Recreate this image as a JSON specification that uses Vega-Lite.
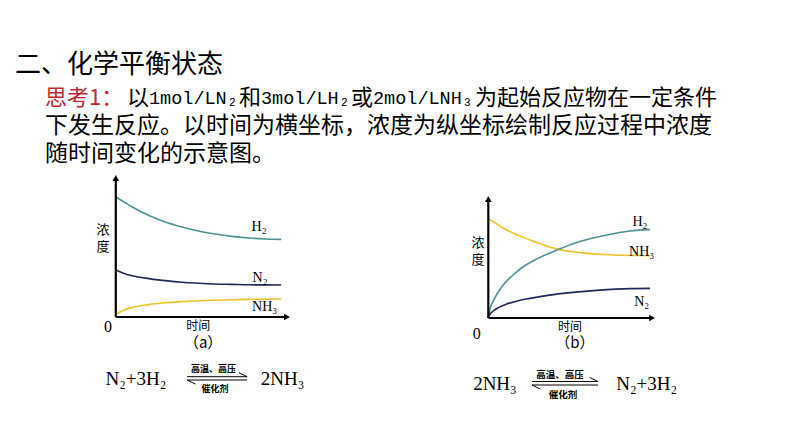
{
  "$schema": "https://vega.github.io/schema/vega-lite/v6.json",
  "padding": 0,
  "background": "white",
  "spacing": 0,
  "config": {"view": {"stroke": null}, "concat": {"spacing": 0}},
  "resolve": {"scale": {"x": "independent", "y": "independent", "color": "independent"}},
  "datasets": {
    "header": [
      {"part": "title", "x": 15, "row": -1.18, "label": "二、化学平衡状态"},
      {"part": "lead", "x": 45, "row": 0, "label": "思考1："},
      {"part": "body1", "x": 127, "row": 0, "label": "以"},
      {"part": "latin", "x": 149, "row": 0, "label": "1mol/LN₂"},
      {"part": "body1", "x": 239, "row": 0, "label": "和"},
      {"part": "latin", "x": 261, "row": 0, "label": "3mol/LH₂"},
      {"part": "body1", "x": 351, "row": 0, "label": "或"},
      {"part": "latin", "x": 373, "row": 0, "label": "2mol/LNH₃"},
      {"part": "body1", "x": 475, "row": 0, "label": "为起始反应物在一定条件"},
      {"part": "body", "x": 45, "row": 1, "label": "下发生反应。以时间为横坐标，浓度为纵坐标绘制反应过程中浓度"},
      {"part": "body", "x": 45, "row": 2, "label": "随时间变化的示意图。"}
    ],
    "curvesA": [
      {"species": "H2", "t": 0, "c": 6.0}, {"species": "H2", "t": 0.5, "c": 5.75}, {"species": "H2", "t": 1, "c": 5.5},
      {"species": "H2", "t": 2, "c": 5.08}, {"species": "H2", "t": 3, "c": 4.75}, {"species": "H2", "t": 4, "c": 4.5},
      {"species": "H2", "t": 5, "c": 4.3}, {"species": "H2", "t": 6, "c": 4.15}, {"species": "H2", "t": 7, "c": 4.03},
      {"species": "H2", "t": 8, "c": 3.95}, {"species": "H2", "t": 9, "c": 3.9}, {"species": "H2", "t": 10, "c": 3.88},
      {"species": "N2", "t": 0, "c": 2.35}, {"species": "N2", "t": 0.5, "c": 2.18}, {"species": "N2", "t": 1, "c": 2.06},
      {"species": "N2", "t": 2, "c": 1.92}, {"species": "N2", "t": 3, "c": 1.82}, {"species": "N2", "t": 4, "c": 1.74},
      {"species": "N2", "t": 5, "c": 1.69}, {"species": "N2", "t": 6, "c": 1.65}, {"species": "N2", "t": 7, "c": 1.63},
      {"species": "N2", "t": 8, "c": 1.61}, {"species": "N2", "t": 10, "c": 1.6},
      {"species": "NH3", "t": 0, "c": 0.12}, {"species": "NH3", "t": 0.5, "c": 0.35}, {"species": "NH3", "t": 1, "c": 0.48},
      {"species": "NH3", "t": 2, "c": 0.62}, {"species": "NH3", "t": 3, "c": 0.71}, {"species": "NH3", "t": 4, "c": 0.77},
      {"species": "NH3", "t": 5, "c": 0.81}, {"species": "NH3", "t": 6, "c": 0.84}, {"species": "NH3", "t": 7, "c": 0.86},
      {"species": "NH3", "t": 8, "c": 0.88}, {"species": "NH3", "t": 10, "c": 0.9}
    ],
    "curvesB": [
      {"species": "NH3", "t": 0, "c": 4.98}, {"species": "NH3", "t": 1.11, "c": 4.4}, {"species": "NH3", "t": 2.52, "c": 3.9},
      {"species": "NH3", "t": 4.23, "c": 3.43}, {"species": "NH3", "t": 5.54, "c": 3.27}, {"species": "NH3", "t": 7.56, "c": 3.15},
      {"species": "NH3", "t": 9.78, "c": 3.12},
      {"species": "H2", "t": 0, "c": 0}, {"species": "H2", "t": 0.1, "c": 0.45}, {"species": "H2", "t": 0.3, "c": 0.85},
      {"species": "H2", "t": 0.6, "c": 1.3}, {"species": "H2", "t": 1.0, "c": 1.75}, {"species": "H2", "t": 1.5, "c": 2.15},
      {"species": "H2", "t": 2.0, "c": 2.5}, {"species": "H2", "t": 3.0, "c": 2.98}, {"species": "H2", "t": 4.23, "c": 3.43},
      {"species": "H2", "t": 5.54, "c": 3.82}, {"species": "H2", "t": 7.16, "c": 4.15}, {"species": "H2", "t": 8.57, "c": 4.35},
      {"species": "H2", "t": 9.78, "c": 4.43},
      {"species": "N2", "t": 0, "c": 0}, {"species": "N2", "t": 0.1, "c": 0.18}, {"species": "N2", "t": 0.3, "c": 0.35},
      {"species": "N2", "t": 0.6, "c": 0.52}, {"species": "N2", "t": 1.11, "c": 0.7}, {"species": "N2", "t": 1.8, "c": 0.86},
      {"species": "N2", "t": 2.52, "c": 0.98}, {"species": "N2", "t": 3.5, "c": 1.12}, {"species": "N2", "t": 4.53, "c": 1.23},
      {"species": "N2", "t": 6.55, "c": 1.38}, {"species": "N2", "t": 8.57, "c": 1.47}, {"species": "N2", "t": 9.78, "c": 1.48}
    ],
    "axesA": [
      {"t": 0, "c": 0, "t2": 0, "c2": 6.9},
      {"t": 0, "c": 0, "t2": 10.3, "c2": 0}
    ],
    "tipUpA": [{"t": 0, "c": 6.95}],
    "tipRightA": [{"t": 10.35, "c": 0}],
    "axesB": [
      {"t": 0, "c": 0, "t2": 0, "c2": 5.9},
      {"t": 0, "c": 0, "t2": 9.85, "c2": 0}
    ],
    "tipUpB": [{"t": 0, "c": 5.95}],
    "tipRightB": [{"t": 9.9, "c": 0}],
    "harpoonA": [
      {"t": 4.31, "c": -2.985, "t2": 7.94, "c2": -2.985},
      {"t": 7.94, "c": -2.985, "t2": 7.44, "c2": -2.78},
      {"t": 4.31, "c": -3.15, "t2": 7.94, "c2": -3.15},
      {"t": 4.31, "c": -3.15, "t2": 4.81, "c2": -3.35}
    ],
    "harpoonB": [
      {"t": 2.64, "c": -3.175, "t2": 6.63, "c2": -3.175},
      {"t": 6.63, "c": -3.175, "t2": 6.13, "c2": -2.97},
      {"t": 2.64, "c": -3.35, "t2": 6.63, "c2": -3.35},
      {"t": 2.64, "c": -3.35, "t2": 3.14, "c2": -3.55}
    ],
    "textA": [
      {"kind": "sp", "t": 8.66, "c": 4.5, "label": "H₂"},
      {"kind": "sp", "t": 8.72, "c": 1.95, "label": "N₂"},
      {"kind": "sp", "t": 9.0, "c": 0.5, "label": "NH₃"},
      {"kind": "ylab", "t": -0.77, "c": 4.35, "label": "浓"},
      {"kind": "ylab", "t": -0.77, "c": 3.5, "label": "度"},
      {"kind": "zero", "t": -0.47, "c": -0.5, "label": "0"},
      {"kind": "xlab", "t": 4.98, "c": -0.45, "label": "时间"},
      {"kind": "tag", "t": 5.28, "c": -1.3, "label": "（a）"},
      {"kind": "eq", "t": 1.22, "c": -3.4, "label": "N₂+3H₂"},
      {"kind": "eq", "t": 10.08, "c": -3.4, "label": "2NH₃"},
      {"kind": "cond", "t": 5.91, "c": -2.6, "label": "高温、高压"},
      {"kind": "cond", "t": 6.0, "c": -3.58, "label": "催化剂"}
    ],
    "textB": [
      {"kind": "sp", "t": 9.17, "c": 4.82, "label": "H₂"},
      {"kind": "sp", "t": 9.27, "c": 3.32, "label": "NH₃"},
      {"kind": "sp", "t": 9.27, "c": 0.82, "label": "N₂"},
      {"kind": "ylab", "t": -0.62, "c": 3.75, "label": "浓"},
      {"kind": "ylab", "t": -0.62, "c": 2.9, "label": "度"},
      {"kind": "zero", "t": -0.7, "c": -0.8, "label": "0"},
      {"kind": "xlab", "t": 4.94, "c": -0.43, "label": "时间"},
      {"kind": "tag", "t": 5.24, "c": -1.25, "label": "（b）"},
      {"kind": "eq", "t": 0.4, "c": -3.6, "label": "2NH₃"},
      {"kind": "eq", "t": 9.57, "c": -3.6, "label": "N₂+3H₂"},
      {"kind": "cond", "t": 4.33, "c": -2.85, "label": "高温、高压"},
      {"kind": "cond", "t": 4.52, "c": -3.85, "label": "催化剂"}
    ]
  },
  "vconcat": [
    {
      "width": 794,
      "height": 170,
      "data": {"name": "header"},
      "encoding": {
        "x": {"field": "x", "type": "quantitative", "scale": {"domain": [0, 794], "nice": false, "zero": false}, "axis": null},
        "y": {"field": "row", "type": "quantitative", "scale": {"domain": [-3.5, 2.571], "reverse": true, "nice": false, "zero": false}, "axis": null},
        "text": {"field": "label"}
      },
      "layer": [
        {"transform": [{"filter": "datum.part == 'title'"}], "mark": {"type": "text", "align": "left", "baseline": "middle", "font": "Noto Sans CJK SC", "fontSize": 26, "color": "#000000"}},
        {"transform": [{"filter": "datum.part == 'lead'"}], "mark": {"type": "text", "align": "left", "baseline": "middle", "font": "Noto Sans CJK SC", "fontSize": 22, "color": "#c0282d"}},
        {"transform": [{"filter": "datum.part == 'body1'"}], "mark": {"type": "text", "align": "left", "baseline": "middle", "font": "Noto Sans CJK SC", "fontSize": 22, "color": "#000000"}},
        {"transform": [{"filter": "datum.part == 'latin'"}], "mark": {"type": "text", "align": "left", "baseline": "middle", "font": "Liberation Mono", "fontSize": 18.5, "color": "#000000"}},
        {"transform": [{"filter": "datum.part == 'body'"}], "mark": {"type": "text", "align": "left", "baseline": "middle", "font": "Noto Sans CJK SC", "fontSize": 23, "color": "#000000"}}
      ]
    },
    {
      "spacing": 0,
      "resolve": {"scale": {"x": "independent", "y": "independent", "color": "independent"}},
      "hconcat": [
        {
          "width": 397,
          "height": 277,
          "encoding": {
            "x": {"field": "t", "type": "quantitative", "scale": {"domain": [-7, 17], "nice": false, "zero": false}, "axis": null},
            "y": {"field": "c", "type": "quantitative", "scale": {"domain": [-6.5, 7.35], "nice": false, "zero": false}, "axis": null}
          },
          "layer": [
            {"data": {"name": "curvesA"}, "mark": {"type": "line", "interpolate": "monotone", "strokeWidth": 1.6},
             "encoding": {"color": {"field": "species", "type": "nominal", "scale": {"domain": ["H2", "N2", "NH3"], "range": ["#4e9297", "#1e2a5a", "#f0c22a"]}, "legend": null}}},
            {"data": {"name": "axesA"}, "mark": {"type": "rule", "color": "#000000", "strokeWidth": 2.2},
             "encoding": {"x2": {"field": "t2"}, "y2": {"field": "c2"}}},
            {"data": {"name": "tipUpA"}, "mark": {"type": "point", "shape": "triangle-up", "filled": true, "size": 45, "color": "#000000", "opacity": 1}},
            {"data": {"name": "tipRightA"}, "mark": {"type": "point", "shape": "triangle-right", "filled": true, "size": 45, "color": "#000000", "opacity": 1}},
            {"data": {"name": "harpoonA"}, "mark": {"type": "rule", "color": "#000000", "strokeWidth": 1},
             "encoding": {"x2": {"field": "t2"}, "y2": {"field": "c2"}}},
            {"data": {"name": "textA"}, "transform": [{"filter": "datum.kind == 'sp'"}], "mark": {"type": "text", "align": "center", "baseline": "middle", "font": "Liberation Serif", "fontSize": 14, "color": "#000000"}, "encoding": {"text": {"field": "label"}}},
            {"data": {"name": "textA"}, "transform": [{"filter": "datum.kind == 'ylab'"}], "mark": {"type": "text", "align": "center", "baseline": "middle", "font": "Noto Sans CJK SC", "fontSize": 13, "color": "#000000"}, "encoding": {"text": {"field": "label"}}},
            {"data": {"name": "textA"}, "transform": [{"filter": "datum.kind == 'zero'"}], "mark": {"type": "text", "align": "center", "baseline": "middle", "font": "Liberation Serif", "fontSize": 16, "color": "#000000"}, "encoding": {"text": {"field": "label"}}},
            {"data": {"name": "textA"}, "transform": [{"filter": "datum.kind == 'xlab'"}], "mark": {"type": "text", "align": "center", "baseline": "middle", "font": "Noto Sans CJK SC", "fontSize": 12, "color": "#000000"}, "encoding": {"text": {"field": "label"}}},
            {"data": {"name": "textA"}, "transform": [{"filter": "datum.kind == 'tag'"}], "mark": {"type": "text", "align": "center", "baseline": "middle", "font": "Noto Sans CJK SC", "fontSize": 15, "color": "#000000"}, "encoding": {"text": {"field": "label"}}},
            {"data": {"name": "textA"}, "transform": [{"filter": "datum.kind == 'eq'"}], "mark": {"type": "text", "align": "center", "baseline": "alphabetic", "font": "Liberation Serif", "fontSize": 19, "color": "#000000"}, "encoding": {"text": {"field": "label"}}},
            {"data": {"name": "textA"}, "transform": [{"filter": "datum.kind == 'cond'"}], "mark": {"type": "text", "align": "center", "baseline": "middle", "font": "Noto Sans CJK SC", "fontSize": 9, "fontWeight": "bold", "color": "#000000"}, "encoding": {"text": {"field": "label"}}}
          ]
        },
        {
          "width": 397,
          "height": 277,
          "encoding": {
            "x": {"field": "t", "type": "quantitative", "scale": {"domain": [-5.52, 18.48], "nice": false, "zero": false}, "axis": null},
            "y": {"field": "c", "type": "quantitative", "scale": {"domain": [-6.45, 7.4], "nice": false, "zero": false}, "axis": null}
          },
          "layer": [
            {"data": {"name": "curvesB"}, "mark": {"type": "line", "interpolate": "monotone", "strokeWidth": 1.6},
             "encoding": {"color": {"field": "species", "type": "nominal", "scale": {"domain": ["H2", "N2", "NH3"], "range": ["#4e9297", "#1e2a5a", "#f0c22a"]}, "legend": null}}},
            {"data": {"name": "axesB"}, "mark": {"type": "rule", "color": "#000000", "strokeWidth": 2.2},
             "encoding": {"x2": {"field": "t2"}, "y2": {"field": "c2"}}},
            {"data": {"name": "tipUpB"}, "mark": {"type": "point", "shape": "triangle-up", "filled": true, "size": 45, "color": "#000000", "opacity": 1}},
            {"data": {"name": "tipRightB"}, "mark": {"type": "point", "shape": "triangle-right", "filled": true, "size": 45, "color": "#000000", "opacity": 1}},
            {"data": {"name": "harpoonB"}, "mark": {"type": "rule", "color": "#000000", "strokeWidth": 1},
             "encoding": {"x2": {"field": "t2"}, "y2": {"field": "c2"}}},
            {"data": {"name": "textB"}, "transform": [{"filter": "datum.kind == 'sp'"}], "mark": {"type": "text", "align": "center", "baseline": "middle", "font": "Liberation Serif", "fontSize": 14, "color": "#000000"}, "encoding": {"text": {"field": "label"}}},
            {"data": {"name": "textB"}, "transform": [{"filter": "datum.kind == 'ylab'"}], "mark": {"type": "text", "align": "center", "baseline": "middle", "font": "Noto Sans CJK SC", "fontSize": 13, "color": "#000000"}, "encoding": {"text": {"field": "label"}}},
            {"data": {"name": "textB"}, "transform": [{"filter": "datum.kind == 'zero'"}], "mark": {"type": "text", "align": "center", "baseline": "middle", "font": "Liberation Serif", "fontSize": 16, "color": "#000000"}, "encoding": {"text": {"field": "label"}}},
            {"data": {"name": "textB"}, "transform": [{"filter": "datum.kind == 'xlab'"}], "mark": {"type": "text", "align": "center", "baseline": "middle", "font": "Noto Sans CJK SC", "fontSize": 12, "color": "#000000"}, "encoding": {"text": {"field": "label"}}},
            {"data": {"name": "textB"}, "transform": [{"filter": "datum.kind == 'tag'"}], "mark": {"type": "text", "align": "center", "baseline": "middle", "font": "Noto Sans CJK SC", "fontSize": 15, "color": "#000000"}, "encoding": {"text": {"field": "label"}}},
            {"data": {"name": "textB"}, "transform": [{"filter": "datum.kind == 'eq'"}], "mark": {"type": "text", "align": "center", "baseline": "alphabetic", "font": "Liberation Serif", "fontSize": 19, "color": "#000000"}, "encoding": {"text": {"field": "label"}}},
            {"data": {"name": "textB"}, "transform": [{"filter": "datum.kind == 'cond'"}], "mark": {"type": "text", "align": "center", "baseline": "middle", "font": "Noto Sans CJK SC", "fontSize": 9.5, "fontWeight": "bold", "color": "#000000"}, "encoding": {"text": {"field": "label"}}}
          ]
        }
      ]
    }
  ]
}
